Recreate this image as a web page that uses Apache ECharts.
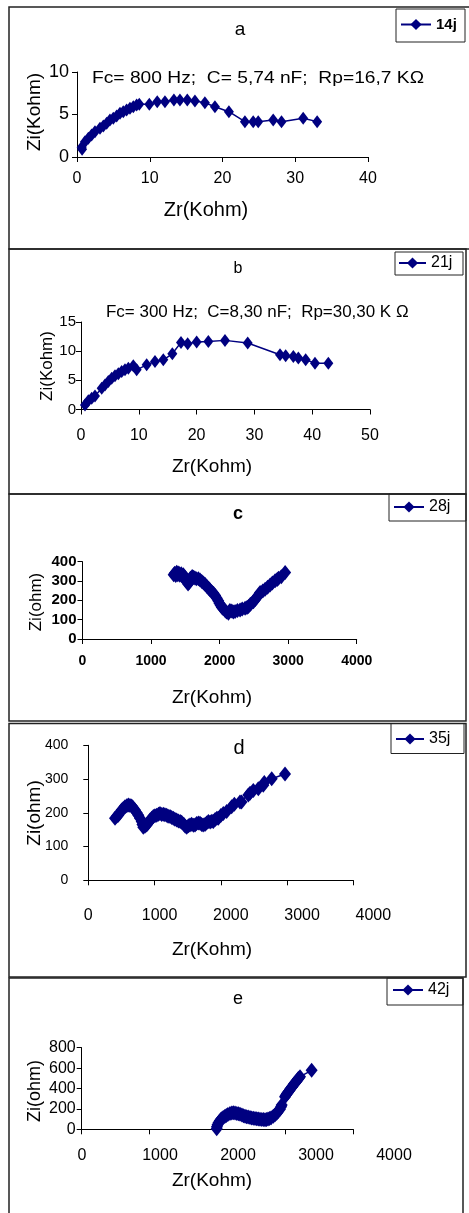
<!DOCTYPE html>
<html>
<head>
<meta charset="utf-8">
<script src="https://cdn.jsdelivr.net/npm/echarts@6.0.0/dist/echarts.min.js"></script>
<style>
  html, body { margin: 0; padding: 0; background: #fff; }
  #chart { width: 469px; height: 1213px; }
</style>
</head>
<body>
<div id="chart"></div>
<script>
// Nyquist plots (Zr vs Zi) recorded at five ageing times.

// Panel a: 14 days (kohm)
const zrA = [0.7, 0.64, 1.10, 1.56, 2.01, 2.47, 3.16, 3.62, 4.08, 4.53, 4.99, 5.45, 5.91, 6.36, 6.82, 7.28, 7.74, 8.20, 8.56, 9.94, 11.03, 12.09, 13.32, 14.15, 15.16, 16.21, 17.58, 18.96, 20.88, 23.08, 24.22, 24.91, 26.97, 28.11, 31.09, 33.01];
const ziA = [0.9, 1.14, 1.80, 2.20, 2.59, 2.98, 3.37, 3.65, 3.96, 4.35, 4.55, 4.82, 5.14, 5.33, 5.53, 5.73, 5.92, 6.12, 6.20, 6.20, 6.51, 6.51, 6.71, 6.71, 6.71, 6.59, 6.39, 5.92, 5.33, 4.16, 4.16, 4.16, 4.35, 4.16, 4.55, 4.16];

// Panel b: 21 days (kohm)
const zrB = [0.69, 1.27, 1.85, 2.42, 3.58, 4.15, 4.73, 5.31, 5.88, 6.46, 7.04, 7.61, 8.19, 9.05, 9.63, 11.36, 12.80, 14.24, 15.80, 17.30, 18.45, 20.01, 22.03, 24.91, 28.84, 34.43, 35.41, 36.74, 37.60, 38.87, 40.48, 42.79];
const ziB = [0.77, 1.52, 1.92, 2.32, 3.64, 4.22, 4.79, 5.36, 5.77, 6.11, 6.51, 6.80, 7.09, 7.49, 6.80, 7.66, 8.23, 8.52, 9.55, 11.50, 11.27, 11.56, 11.67, 11.85, 11.39, 9.38, 9.21, 9.09, 8.81, 8.52, 7.95, 7.95];

// Panel c: 28 days
const zrC = [1330, 1345, 1360, 1375, 1390, 1405, 1420, 1440, 1455, 1470, 1490, 1505, 1520, 1540, 1555, 1575, 1600, 1620, 1640, 1660, 1690, 1715, 1740, 1765, 1790, 1815, 1840, 1861, 1885, 1910, 1935, 1959, 1980, 1998, 2015, 2032, 2050, 2080, 2100, 2129, 2150, 2178, 2200, 2226, 2260, 2299, 2330, 2372, 2400, 2421, 2450, 2494, 2520, 2542, 2570, 2591, 2630, 2664, 2700, 2737, 2770, 2810, 2840, 2859, 2900, 2956];
const ziC = [332, 340, 328, 345, 332, 342, 330, 338, 325, 333, 322, 310, 296, 285, 292, 315, 324, 320, 316, 312, 312, 305, 298, 290, 282, 272, 262, 254, 245, 237, 225, 211, 198, 185, 175, 164, 158, 147, 140, 133, 148, 145, 140, 142, 148, 150, 155, 159, 163, 168, 180, 193, 205, 216, 228, 240, 248, 257, 268, 280, 290, 302, 308, 314, 322, 344];

// Panel d: 35 days
const zrD = [375, 400, 421, 445, 468, 490, 515, 540, 562, 585, 609, 630, 655, 680, 702, 725, 749, 760, 772, 795, 819, 840, 866, 890, 913, 935, 960, 985, 1006, 1030, 1053, 1075, 1100, 1120, 1147, 1170, 1193, 1215, 1240, 1265, 1290, 1310, 1340, 1360, 1381, 1405, 1427, 1450, 1475, 1498, 1520, 1545, 1568, 1590, 1612, 1638, 1660, 1685, 1710, 1735, 1755, 1780, 1805, 1825, 1860, 1895, 1942, 2012, 2050, 2129, 2150, 2246, 2270, 2316, 2386, 2456, 2470, 2574, 2761];
const ziD = [184, 190, 193, 200, 208, 213, 218, 221, 223, 222, 220, 215, 208, 200, 193, 184, 174, 165, 157, 160, 164, 170, 179, 184, 189, 191, 193, 196, 198, 195, 196, 194, 193, 190, 189, 186, 184, 181, 179, 176, 174, 172, 166, 160, 157, 162, 164, 166, 163, 164, 168, 170, 169, 165, 164, 165, 170, 174, 173, 175, 174, 180, 184, 184, 192, 198, 204, 218, 225, 232, 232, 253, 258, 266, 271, 282, 290, 301, 315];

// Panel e: 42 days
const zrE = [1727, 1730, 1738, 1750, 1765, 1780, 1791, 1810, 1830, 1850, 1870, 1897, 1920, 1940, 1962, 1985, 2005, 2026, 2050, 2070, 2090, 2110, 2130, 2154, 2175, 2196, 2218, 2240, 2260, 2282, 2305, 2325, 2346, 2365, 2385, 2405, 2425, 2453, 2475, 2496, 2515, 2538, 2552, 2560, 2603, 2612, 2628, 2640, 2660, 2672, 2690, 2700, 2722, 2735, 2750, 2768, 2780, 2795, 2944];
const ziE = [5, 25, 45, 65, 82, 95, 104, 115, 125, 135, 145, 155, 160, 162, 160, 156, 152, 148, 140, 133, 128, 124, 120, 116, 112, 109, 106, 103, 100, 98, 97, 95, 93, 96, 100, 106, 114, 128, 142, 157, 175, 196, 220, 238, 320, 332, 352, 362, 380, 398, 412, 425, 448, 458, 470, 492, 500, 516, 578];

const seriesNames = ['14j', '21j', '28j', '35j', '42j'];
const panelTitles = ['a', 'b', 'c', 'd', 'e'];
const notes = ['Fc= 800 Hz;  C= 5,74 nF;  Rp=16,7 K\u03A9', 'Fc= 300 Hz;  C=8,30 nF;  Rp=30,30 K \u03A9'];
const xNames = ['Zr(Kohm)', 'Zr(Kohm)', 'Zr(Kohm)', 'Zr(Kohm)', 'Zr(Kohm)'];
const yNames = ['Zi(Kohm)', 'Zi(Kohm)', 'Zi(ohm)', 'Zi(ohm)', 'Zi(ohm)'];

const zip = (xs, ys) => xs.map((x, i) => [x, ys[i]]);

const FONT = "'Liberation Sans', Arial, sans-serif";
const NAVY = '#000080';

function valAxis(gridIndex, min, max, interval, opts) {
  opts = opts || {};
  return {
    type: 'value', gridIndex, min, max, interval,
    axisLine: { show: opts.line !== false, onZero: false, lineStyle: { color: '#000', width: 1 } },
    axisTick: { show: opts.line !== false, length: 5, lineStyle: { color: '#000', width: 1 } },
    splitLine: { show: false },
    axisLabel: {
      show: opts.labels !== false,
      margin: opts.margin || 8,
      color: '#000',
      fontSize: opts.fontSize || 16,
      fontFamily: FONT,
      fontWeight: opts.weight || 'normal',
      formatter: (v) => String(v)
    }
  };
}

const grids = [
  { left: 77, top: 72, width: 291, height: 85 },          // a
  { left: 81, top: 322, width: 289, height: 87.5 },       // b
  { left: 82.5, top: 561.7, width: 274.2, height: 77.3 }, // c
  { left: 88.3, top: 745.3, width: 265, height: 135 },    // d axis line
  { left: 88.3, top: 745.3, width: 285, height: 135 },    // d tick labels
  { left: 81.7, top: 1047.7, width: 271.6, height: 81.6 },// e axis line
  { left: 82, top: 1047.7, width: 312, height: 81.6 }     // e tick labels
];

const xAxes = [
  valAxis(0, 0, 40, 10, { margin: 14, fontSize: 16 }),
  valAxis(1, 0, 50, 10, { margin: 18, fontSize: 16 }),
  valAxis(2, 0, 4000, 1000, { margin: 15, fontSize: 14, weight: 'bold' }),
  valAxis(3, 0, 4000, 1000, { labels: false }),
  valAxis(4, 0, 4000, 1000, { line: false, margin: 27, fontSize: 16 }),
  valAxis(5, 0, 4000, 1000, { labels: false }),
  valAxis(6, 0, 4000, 1000, { line: false, margin: 18, fontSize: 16 })
];

const yAxes = [
  valAxis(0, 0, 10, 5, { margin: 8, fontSize: 18 }),
  valAxis(1, 0, 15, 5, { margin: 5, fontSize: 15 }),
  valAxis(2, 0, 400, 100, { margin: 6, fontSize: 15, weight: 'bold' }),
  valAxis(3, 0, 400, 100, { margin: 20, fontSize: 14 }),
  Object.assign(valAxis(4, 0, 400, 100), { show: false }),
  valAxis(5, 0, 800, 200, { margin: 6, fontSize: 16 }),
  Object.assign(valAxis(6, 0, 800, 200), { show: false })
];

function lineSeries(name, data, axisIndex, size) {
  return {
    type: 'line', name, data,
    xAxisIndex: axisIndex, yAxisIndex: axisIndex,
    symbol: 'diamond', symbolSize: size,
    itemStyle: { color: NAVY },
    lineStyle: { color: NAVY, width: 1.5 },
    animation: false
  };
}

const series = [
  lineSeries(seriesNames[0], zip(zrA, ziA), 0, [10, 13]),
  lineSeries(seriesNames[1], zip(zrB, ziB), 1, [10, 13]),
  lineSeries(seriesNames[2], zip(zrC, ziC), 2, [12, 15]),
  lineSeries(seriesNames[3], zip(zrD, ziD), 4, [12, 15]),
  lineSeries(seriesNames[4], zip(zrE, ziE), 6, [12, 15])
];

function legendAt(i, left, top, width, weight, size) {
  return {
    data: [seriesNames[i]], left, top, padding: 0,
    itemWidth: width, itemHeight: 14, selectedMode: false,
    textStyle: { color: '#000', fontSize: size, fontFamily: FONT, fontWeight: weight }
  };
}

const legends = [
  legendAt(0, 400, 17, 30, 'bold', 15),
  legendAt(1, 398, 255, 27, 'normal', 16),
  legendAt(2, 393, 499, 30, 'normal', 16),
  legendAt(3, 395, 731, 28, 'normal', 16),
  legendAt(4, 392, 982, 30, 'normal', 16)
];

// frames around each panel and the boxes around the legends
const frame = (x, y, w, h, lw) => ({
  type: 'rect', shape: { x, y, width: w, height: h },
  style: { fill: 'none', stroke: '#222', lineWidth: lw }, silent: true
});
const text = (str, x, y, font, opts) => {
  opts = opts || {};
  const el = {
    type: 'text', x, y,
    style: { text: str, font, fill: '#000', textAlign: opts.align || 'center', textVerticalAlign: 'middle' },
    silent: true
  };
  if (opts.rot) el.rotation = Math.PI / 2;
  if (opts.sx) el.scaleX = opts.sx;
  return el;
};

const graphics = [
  frame(9, 7, 470, 242, 1.5),
  frame(9, 249, 457, 245, 1.5),
  frame(9, 494, 457, 227, 1.5),
  frame(9, 723.5, 457, 253.5, 1.5),
  frame(9, 978, 454, 240, 1.5),
  frame(396, 9, 69, 33, 1),
  frame(395, 252, 68, 23, 1),
  frame(389, 494, 77, 27, 1),
  frame(391, 723.5, 73, 30, 1),
  frame(387, 978, 76, 27, 1),

  text(panelTitles[0], 240, 30, '19px ' + FONT),
  text(panelTitles[1], 238, 269, '16px ' + FONT),
  text(panelTitles[2], 238, 514, 'bold 18px ' + FONT),
  text(panelTitles[3], 239, 748, '20px ' + FONT),
  text(panelTitles[4], 238, 999, '18px ' + FONT),

  text(notes[0], 92, 78, '17px ' + FONT, { align: 'left', sx: 1.13 }),
  text(notes[1], 106, 313, '16px ' + FONT, { align: 'left', sx: 1.06 }),

  text(xNames[0], 206, 210, '20px ' + FONT),
  text(xNames[1], 212, 467, '19px ' + FONT),
  text(xNames[2], 212, 698, '19px ' + FONT),
  text(xNames[3], 212, 950, '19px ' + FONT),
  text(xNames[4], 212, 1181, '19px ' + FONT),

  text(yNames[0], 35, 112, '19px ' + FONT, { rot: true }),
  text(yNames[1], 47, 366, '17px ' + FONT, { rot: true }),
  text(yNames[2], 36, 602, '17px ' + FONT, { rot: true }),
  text(yNames[3], 35, 813, '19px ' + FONT, { rot: true }),
  text(yNames[4], 35, 1091, '18px ' + FONT, { rot: true })
];

const chart = echarts.init(document.getElementById('chart'), null, { renderer: 'canvas' });
chart.setOption({
  animation: false,
  backgroundColor: '#fff',
  grid: grids,
  xAxis: xAxes,
  yAxis: yAxes,
  legend: legends,
  series,
  graphic: { elements: graphics }
});
</script>
</body>
</html>
